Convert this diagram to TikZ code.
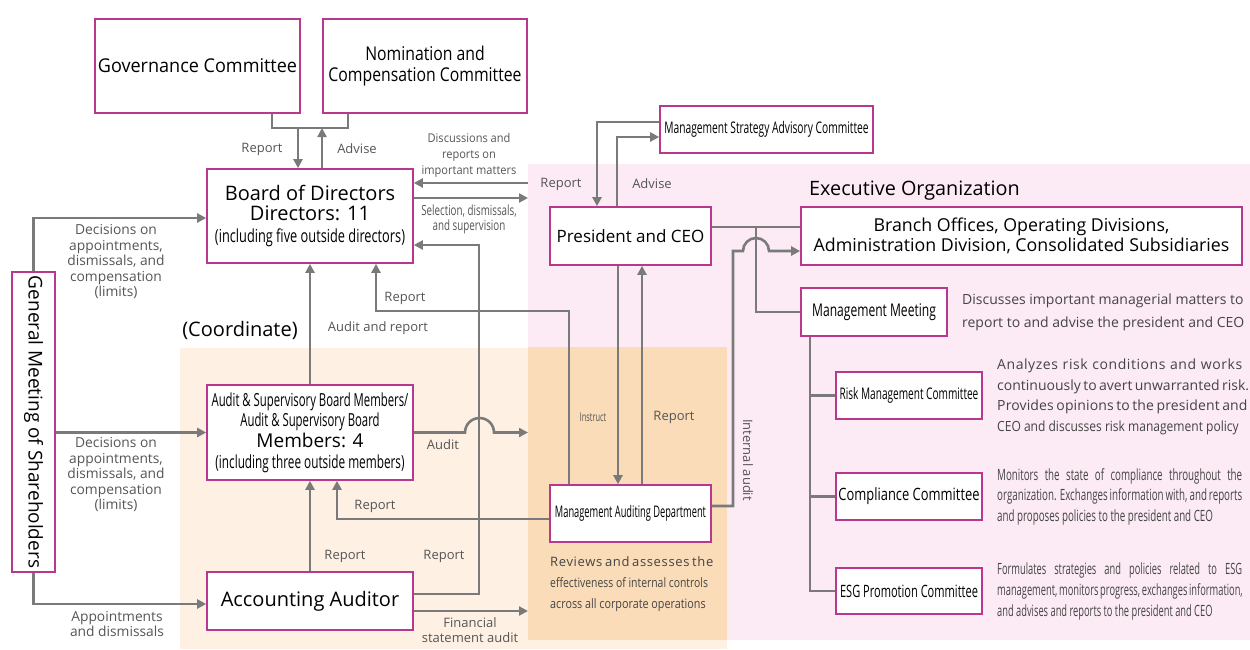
\documentclass[tikz,border=0pt]{standalone}
\usepackage{fontspec}
\setmainfont{Open Sans}
\newfontfamily\cond[FakeStretch=0.76]{Open Sans}
\newcommand\st[1]{\addfontfeatures{FakeStretch=#1}}
\usetikzlibrary{arrows.meta,calc}
\definecolor{mag}{HTML}{B8388F}
\definecolor{lngray}{HTML}{7A7A7A}
\definecolor{txtgray}{HTML}{555555}
\definecolor{desc}{HTML}{444444}
\definecolor{pinkbg}{HTML}{FCEBF4}
\definecolor{peach}{HTML}{FEF1E4}
\definecolor{orng}{HTML}{FADCB8}
\newcommand\fsz[2]{\fontsize{#1}{#2}\selectfont}
\begin{document}
\begin{tikzpicture}[x=1pt,y=-1pt,
  box/.style={draw=mag, line width=1.6pt, fill=white, inner sep=0pt, align=center, text=black},
  ln/.style={draw=lngray, line width=2.6pt},
  arr/.style={ln, -{Triangle[length=9pt,width=9pt]}},
  lbl/.style={text=txtgray, font=\fsz{13}{15.5}, align=center, inner sep=0pt},
  dsc/.style={text=desc, align=left, inner sep=0pt, anchor=west}]
\useasboundingbox (0,0) rectangle (1250,649);
\fill[pinkbg] (528,164) rectangle (1250,640);
\fill[peach] (180,348) rectangle (727,649);
\fill[orng] (528,347) rectangle (727,640);

% boxes
\node[box, minimum width=205pt, minimum height=94pt, font=\fsz{19}{22}\st{0.95}] (gov) at (197.5,66) {Governance Committee};
\node[box, minimum width=204pt, minimum height=94pt, font=\fsz{19}{21}\st{0.83}] (nom) at (425,66) {Nomination and\\Compensation Committee};
\node[box, minimum width=206pt, minimum height=94pt, font=\fsz{20}{20}] (bod) at (310,216) {Board of Directors\\Directors: 11\\[2pt]{\fsz{18}{19}\st{0.71}(including five outside directors)}};
\node[box, minimum width=43pt, minimum height=300pt, font=\fsz{19}{22}] (gm) at (33.5,422) {\rotatebox{-90}{General Meeting of Shareholders}};
\node[box, minimum width=206pt, minimum height=95pt, font=\fsz{18}{20.7}] (asb) at (310,432.5) {{\st{0.63}Audit \& Supervisory Board Members/}\\{\st{0.63}Audit \& Supervisory Board}\\{\fsz{19}{21}Members: 4}\\{\st{0.655}(including three outside members)}};
\node[box, minimum width=206pt, minimum height=58pt, font=\fsz{20}{22}] (acc) at (310,601) {Accounting Auditor};
\node[box, minimum width=213pt, minimum height=47pt, font=\fsz{16}{17}\st{0.64}] (msac) at (766.5,129.5) {Management Strategy Advisory Committee};
\node[box, minimum width=161pt, minimum height=58pt, font=\fsz{17}{21}] (ceo) at (630.5,236) {President and CEO};
\node[box, minimum width=441pt, minimum height=58pt, font=\fsz{17.8}{20}] (branch) at (1021.5,236) {Branch Offices, Operating Divisions,\\Administration Division, Consolidated Subsidiaries};
\node[box, minimum width=146pt, minimum height=48pt, font=\fsz{17.5}{19}\st{0.69}] (mm) at (874,312) {Management Meeting};
\node[box, minimum width=146pt, minimum height=47pt, font=\fsz{16}{19}\st{0.63}] (risk) at (909,395.5) {Risk Management Committee};
\node[box, minimum width=146pt, minimum height=47pt, font=\fsz{17}{19}\st{0.76}] (comp) at (909,496.5) {Compliance Committee};
\node[box, minimum width=146pt, minimum height=46pt, font=\fsz{17}{19}\st{0.65}] (esg) at (909,591) {ESG Promotion Committee};
\node[box, minimum width=161pt, minimum height=57pt, font=\fsz{16}{19}\st{0.58}] (mad) at (630.5,513.5) {Management Auditing Department};

% coordinates
\coordinate (gj1) at (298,128);
\coordinate (gj2) at (322,128);
\coordinate (ex1) at (528,183);
\coordinate (ex2) at (528,198);
\coordinate (jn) at (756,227);
\coordinate (fa) at (528,432.5);
\coordinate (fs) at (528,611);

% connectors
\draw[ln] (gov.south -| 272,0) |- (348,128) -- (nom.south -| 348,0);
\draw[arr] (gj1) -- (bod.north -| gj1);
\draw[arr] (bod.north -| gj2) -- (gj2);
\draw[arr] (gm.north) |- ([yshift=-2pt]bod.west);
\draw[arr] (gm.east |- asb.west) -- (asb.west);
\draw[arr] (gm.south) |- ([yshift=-3pt]acc.west);
\draw[arr] (ex1) -- (bod.east |- ex1);
\draw[arr] (bod.east |- ex2) -- (ex2);
\draw[arr] (msac.west |- 0,122) -| (ceo.north -| 597,0);
\draw[arr] (ceo.north -| 617,0) |- (msac.west |- 0,137);
\draw[ln] (ceo.east |- jn) -- (branch.west |- jn);
\draw[ln] (jn) |- (mm.west);
\draw[arr] (mad.east |- 0,506) -| (733,251) -- (743,251) arc[start angle=180,end angle=0,radius=13pt] -- (branch.west |- 0,251);
\draw[arr] (ceo.south -| 618,0) -- (mad.north -| 618,0);
\draw[arr] (mad.north -| 642,0) -- (ceo.south -| 642,0);
\draw[arr] (mad.north -| 569,0) -- (569,311) -| (bod.south -| 376,0);
\draw[arr] (acc.east |- 0,594) -| (479,245) -- (bod.east |- 0,245);
\draw[arr] (asb.north) -- (bod.south);
\draw[arr] (acc.north) -- (asb.south);
\draw[arr] (mad.west |- 0,519) -| (asb.south -| 337,0);
\draw[arr] (asb.east) -- (465,432.5) arc[start angle=180,end angle=0,radius=14.5pt] -- (fa);
\draw[arr] (acc.east |- fs) -- (fs);
\draw[ln] (mm.south -| 810,0) |- (esg.west);
\draw[ln] (810,0 |- risk.west) -- (risk.west);
\draw[ln] (810,0 |- comp.west) -- (comp.west);

% labels
\node[lbl] (l1) at (262,149) {Report};
\node[lbl] (l2) at (357,149) {Advise};
\node[lbl, font=\fsz{13.8}{15.5}] (l3) at (116,262) {Decisions on\\appointments,\\dismissals, and\\compensation\\(limits)};
\node[lbl, font=\fsz{13.8}{15.5}] (l4) at (116,475) {Decisions on\\appointments,\\dismissals, and\\compensation\\(limits)};
\node[lbl, font=\fsz{13.8}{15.5}] (l5) at (117,624) {Appointments\\and dismissals};
\node[lbl, font=\fsz{12}{16}\st{0.92}] (l6) at (469,155) {Discussions and\\reports on\\important matters};
\node[lbl, font=\fsz{14}{15}\st{0.7}] (l7) at (469,219) {Selection, dismissals,\\and supervision};
\node[lbl] (l8) at (561,184) {Report};
\node[lbl] (l9) at (652,184) {Advise};
\node[anchor=west, inner sep=0pt, font=\fsz{19.8}{22}] (l10) at (809,191) {Executive Organization};
\node[inner sep=0pt, font=\fsz{20}{22}] (l11) at (240,330) {(Coordinate)};
\node[lbl] (l12) at (378,328) {Audit and report};
\node[lbl] (l13) at (405,298) {Report};
\node[lbl] (l14) at (443,445) {Audit};
\node[lbl] (l15) at (375,506) {Report};
\node[lbl] (l16) at (345,556) {Report};
\node[lbl] (l17) at (444,556) {Report};
\node[lbl] (l18) at (470,630) {Financial\\statement audit};
\node[lbl, font=\fsz{12}{14}\st{0.62}] (l19) at (593,417) {Instruct};
\node[lbl] (l20) at (674,417) {Report};
\node[lbl] (l21) at (748,460) {\rotatebox{-90}{Internal audit}};

% descriptions
\node[dsc, font=\fsz{14}{23}] (d1) at (962,312) {Discusses important managerial matters to\\report to and advise the president and CEO};
\node[dsc, font=\fsz{14}{20.7}] (d2) at (997,397) {{\addfontfeatures{LetterSpace=4}\makebox[245pt][s]{Analyzes risk conditions and works}}\\{\makebox[245pt][s]{continuously to avert unwarranted risk.}}\\{\addfontfeatures{LetterSpace=1}\makebox[245pt][s]{Provides opinions to the president and}}\\{\st{0.86}CEO and discusses risk management policy}};
\node[dsc, font=\fsz{15.5}{20.5}\st{0.63}] (d3) at (997,496.5) {\makebox[245pt][s]{Monitors the state of compliance throughout the}\\\makebox[245pt][s]{organization. Exchanges information with, and reports}\\and proposes policies to the president and CEO};
\node[dsc, font=\fsz{15.5}{21}\st{0.6}] (d4) at (997,591) {\makebox[245pt][s]{Formulates strategies and policies related to ESG}\\\makebox[245pt][s]{management, monitors progress, exchanges information,}\\and advises and reports to the president and CEO};
\node[dsc, font=\fsz{13}{21}] (d5) at (550,584) {{\addfontfeatures{LetterSpace=5}\makebox[160pt][s]{Reviews and assesses the}}\\{\st{0.8}effectiveness of internal controls}\\{\st{0.83}across all corporate operations}};
\end{tikzpicture}
\end{document}
